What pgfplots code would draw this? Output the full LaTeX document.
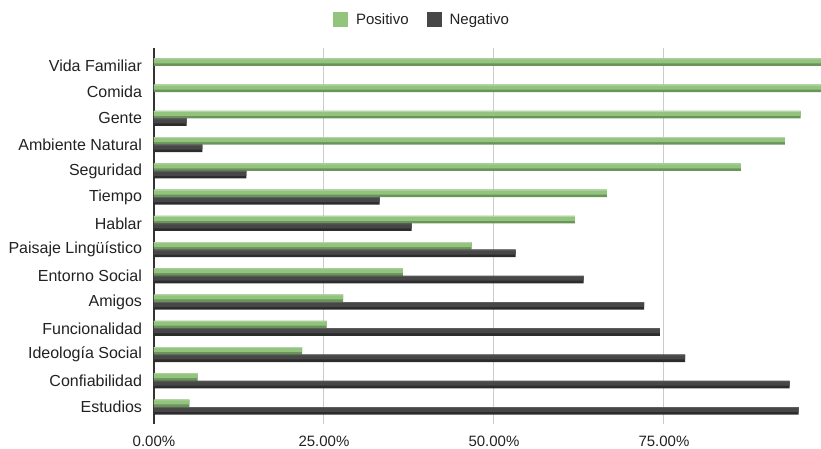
\documentclass[border=0pt]{standalone}
\usepackage{fontspec}
\setmainfont{Liberation Sans}
\usepackage{pgfplots}
\usepackage{pgfplotstable}
\pgfplotsset{compat=1.18}

\definecolor{posL}{HTML}{93C47D}
\definecolor{posD}{HTML}{6A955A}
\definecolor{posH}{HTML}{B4D6A5}
\definecolor{negL}{HTML}{474747}
\definecolor{negD}{HTML}{2C2C2C}
\definecolor{negH}{HTML}{5E5E5E}
\definecolor{txt}{HTML}{222222}

% idx 0 = Estudios (bottom) ... 13 = Vida Familiar (top); values in percent
\pgfplotstableread{
idx pos   neg
0   5.2   94.8
1   6.4   93.5
2   21.8  78.1
3   25.4  74.4
4   27.8  72.1
5   36.6  63.2
6   46.7  53.2
7   61.9  37.9
8   66.6  33.2
9   86.3  13.6
10  92.8  7.1
11  95.1  4.8
12  100   0
13  100   0
}\survey

\begin{document}
\begin{tikzpicture}
\begin{axis}[
  scale only axis,
  width=667pt, height=376pt,
  xbar, bar width=7.5pt,
  xmin=0, xmax=98.1,
  ymin=-0.648, ymax=13.686,
  xtick={25,50,75},
  xticklabels={25.00\%,50.00\%,75.00\%},
  extra x ticks={0},
  extra x tick labels={0.00\%},
  extra x tick style={xmajorgrids=false},
  ytick={0,...,13},
  yticklabels={Estudios,Confiabilidad,Ideología Social,Funcionalidad,Amigos,Entorno Social,Paisaje Lingüístico,Hablar,Tiempo,Seguridad,Ambiente Natural,Gente,Comida,Vida Familiar},
  xmajorgrids,
  major grid style={draw=black!20, line width=1pt},
  axis y line*=left,
  axis x line*=bottom,
  x axis line style={draw=none},
  y axis line style={draw=black!80, line width=1.4pt, -},
  major tick length=0pt,
  xticklabel style={font=\fontsize{15}{18}\selectfont, text=txt, yshift=-8pt},
  yticklabel style={font=\fontsize{16}{19}\selectfont, text=txt, xshift=-8.5pt},
  legend style={at={(axis description cs:0.4018,1.0745)}, anchor=center,
    draw=none, fill=none, legend columns=2,
    font=\fontsize{15}{18}\selectfont, text=txt,
    /tikz/every odd column/.append style={column sep=6pt},
    /tikz/every even column/.append style={column sep=16pt}},
]
% Positivo: dark lower face, light upper face, pale rim
\addplot[fill=posD, draw=none, bar shift=3.75pt,
  legend image code/.code={\fill[posL] (0pt,-7.5pt) rectangle (15pt,7.5pt);}]
  table[x=pos, y=idx] {\survey};
\addlegendentry{Positivo}
\addplot[fill=posL, draw=none, bar width=4.9pt, bar shift=5.05pt, forget plot]
  table[x=pos, y=idx] {\survey};
\addplot[fill=posH, draw=none, bar width=0.9pt, bar shift=7.05pt, forget plot]
  table[x=pos, y=idx] {\survey};
% Negativo
\addplot[fill=negD, draw=none, bar shift=-3.75pt,
  legend image code/.code={\fill[negL] (0pt,-7.5pt) rectangle (15pt,7.5pt);}]
  table[x=neg, y=idx] {\survey};
\addlegendentry{Negativo}
\addplot[fill=negL, draw=none, bar width=4.9pt, bar shift=-2.45pt, forget plot]
  table[x=neg, y=idx] {\survey};
\addplot[fill=negH, draw=none, bar width=0.9pt, bar shift=-0.45pt, forget plot]
  table[x=neg, y=idx] {\survey};
\end{axis}
\pgfresetboundingbox
\path ([shift={(-154pt,-25pt)}]current axis.south west) rectangle ([shift={(0pt,48pt)}]current axis.north east);
\end{tikzpicture}
\end{document}
